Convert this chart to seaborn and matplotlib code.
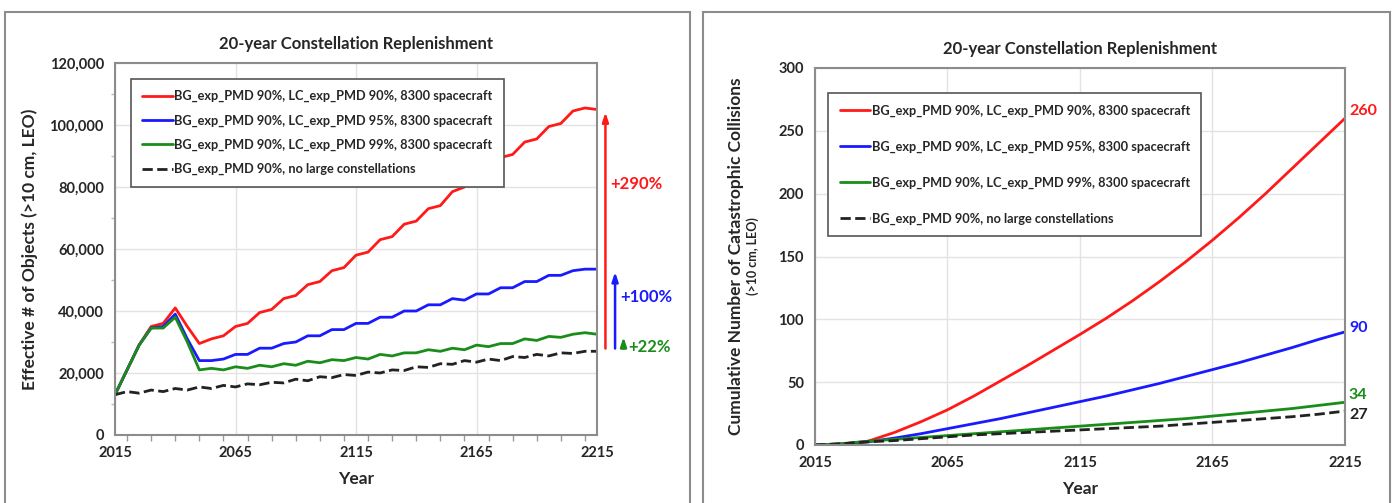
import numpy as np
import pandas as pd
import matplotlib.pyplot as plt
import matplotlib.ticker as mticker
from matplotlib.patches import Rectangle
import seaborn as sns

# ---- data ----
years5 = list(range(2015, 2220, 5))
years10 = list(range(2015, 2220, 10))

labels = ['BG_exp_PMD 90%, LC_exp_PMD 90%, 8300 spacecraft',
          'BG_exp_PMD 90%, LC_exp_PMD 95%, 8300 spacecraft',
          'BG_exp_PMD 90%, LC_exp_PMD 99%, 8300 spacecraft',
          'BG_exp_PMD 90%, no large constellations']

# effective number of objects (thousands)
obj_red = [13, 21, 29, 35, 36, 41, 35, 29.5, 31, 32, 35, 36, 39.5, 40.5, 44, 45, 48.5, 49.5, 53, 54,
           58, 59, 63, 64, 68, 69, 73, 74, 78.5, 80, 84, 85.5, 89.5, 90.5, 94.5, 95.5, 99.5, 100.5,
           104.5, 105.5, 105]
obj_blue = [13, 21, 29, 34.5, 35, 39, 31, 24, 24, 24.5, 26, 26, 28, 28, 29.5, 30, 32, 32, 34, 34,
            36, 36, 38, 38, 40, 40, 42, 42, 44, 43.5, 45.5, 45.5, 47.5, 47.5, 49.5, 49.5, 51.5, 51.5,
            53, 53.5, 53.5]
obj_green = [13, 21, 29, 34.5, 34.5, 38, 30, 21, 21.5, 21, 22, 21.5, 22.5, 22, 23, 22.5, 23.8, 23.3,
             24.3, 24, 25, 24.5, 26, 25.5, 26.5, 26.5, 27.5, 27, 28, 27.5, 29, 28.5, 29.5, 29.5, 31,
             30.5, 31.8, 31.5, 32.5, 33, 32.5]
obj_black = [13, 14, 13.5, 14.5, 14, 15, 14.5, 15.5, 15, 16, 15.5, 16.5, 16.2, 17, 16.8, 18, 17.5,
             18.8, 18.5, 19.5, 19.2, 20.3, 20, 21, 20.8, 22, 21.8, 23, 22.8, 24, 23.5, 24.5, 24,
             25.3, 25, 26, 25.5, 26.5, 26.3, 27, 27]

# cumulative catastrophic collisions
col_red = [0, 0.8, 3, 10, 18.5, 28, 39, 51, 63, 75.5, 88, 101, 115, 130, 146, 163, 181, 200, 220, 240, 260]
col_blue = [0, 0.8, 2.5, 5.5, 9, 13, 17, 21, 25.5, 30, 34.5, 39, 44, 49, 54.5, 60, 65.5, 71.5, 77.5, 84, 90]
col_green = [0, 1, 3, 4.5, 6, 7.5, 9, 10.5, 12, 13.5, 15, 16.5, 18, 19.5, 21, 23, 25, 27, 29, 31.5, 34]
col_black = [0, 1, 2.5, 3.5, 5, 6.5, 8, 9, 10, 11, 12, 13, 14, 15, 16.5, 18, 19.5, 21, 22.5, 24.5, 27]

growth_labels = ['+290%', '+100%', '+22%']
final_labels = ['260', '90', '34', '27']

colors = ['#ff1a1a', '#1a1aff', '#1a8c1a', '#222222']
styles = ['-', '-', '-', '--']

sns.set_theme(style='white')
plt.rcParams['font.family'] = ['Lato', 'DejaVu Sans']
plt.rcParams['font.weight'] = 'bold'

fig = plt.figure(figsize=(13.92, 5.03), dpi=100)

# panel frames
for x0, x1 in [(5, 690), (703, 1390)]:
    fig.patches.append(Rectangle((x0 / 1392, -0.05), (x1 - x0) / 1392, 1 - 12 / 503 + 0.05,
                                 transform=fig.transFigure, fill=False, edgecolor='#8c8c8c', lw=1.5))

ax1 = fig.add_axes([115 / 1392, 1 - 435 / 503, 482 / 1392, 372 / 503])
ax2 = fig.add_axes([815 / 1392, 1 - 445 / 503, 530 / 1392, 377 / 503])

obj_series = [obj_red, obj_blue, obj_green, obj_black]
col_series = [col_red, col_blue, col_green, col_black]

for vals, lab, c, ls in zip(obj_series, labels, colors, styles):
    df = pd.DataFrame({'Year': years5, 'v': np.array(vals) * 1000})
    sns.lineplot(data=df, x='Year', y='v', ax=ax1, color=c, linestyle=ls, lw=2, label=lab)

for vals, lab, c, ls in zip(col_series, labels, colors, styles):
    df = pd.DataFrame({'Year': years10, 'v': vals})
    sns.lineplot(data=df, x='Year', y='v', ax=ax2, color=c, linestyle=ls, lw=2, label=lab)

for ax in (ax1, ax2):
    ax.set_xlim(2015, 2215)
    ax.set_xticks([2015, 2065, 2115, 2165, 2215])
    ax.tick_params(axis='both', which='major', labelsize=10.5, length=0, pad=8)
    ax.grid(True, which='major', color='#e3e3e3', lw=1)
    for sp in ax.spines.values():
        sp.set_color('#8c8c8c')
        sp.set_linewidth(1.5)
    ax.set_xlabel('Year', fontsize=12.5, fontweight='bold', labelpad=8)
    ax.set_title('20-year Constellation Replenishment', fontsize=12, fontweight='bold', pad=10)
    for t in ax.get_xticklabels() + ax.get_yticklabels():
        t.set_fontweight('bold')

ax1.xaxis.set_minor_locator(mticker.MultipleLocator(10))
ax1.tick_params(axis='x', which='minor', bottom=True, length=4, color='#999999')
ax1.set_ylim(0, 120000)
ax1.set_yticks(range(0, 120001, 20000))
ax1.yaxis.set_major_formatter(mticker.StrMethodFormatter('{x:,.0f}'))
ax1.yaxis.set_minor_locator(mticker.MultipleLocator(10000))
ax1.tick_params(axis='y', which='minor', left=True, length=3, color='#bbbbbb')
ax1.set_ylabel('Effective # of Objects (>10 cm, LEO)', fontsize=12.5, fontweight='bold', labelpad=8)
for t in ax1.get_yticklabels():
    t.set_fontweight('bold')

ax2.set_ylim(0, 300)
ax2.set_yticks(range(0, 301, 50))
ax2.set_ylabel('')
ax2.text(-0.15, 0.5, 'Cumulative Number of Catastrophic Collisions', transform=ax2.transAxes,
         rotation=90, ha='center', va='center', fontsize=12.5, fontweight='bold')
ax2.text(-0.117, 0.5, '(>10 cm, LEO)', transform=ax2.transAxes,
         rotation=90, ha='center', va='center', fontsize=9, fontweight='bold')
for t in ax2.get_yticklabels():
    t.set_fontweight('bold')

leg_kw = dict(loc='upper left', frameon=True, fancybox=False, handlelength=2.4,
              handletextpad=0.1, borderpad=0.9, prop={'size': 9.2, 'weight': 'bold'})
l1 = ax1.legend(bbox_to_anchor=(0.019, 0.975), labelspacing=0.95, **leg_kw)
l2 = ax2.legend(bbox_to_anchor=(0.013, 0.95), labelspacing=1.85, **leg_kw)
for lg in (l1, l2):
    lg.get_frame().set_edgecolor('#555555')
    lg.get_frame().set_linewidth(1.2)
    lg.get_frame().set_alpha(1)

# growth arrows, left panel
base = 27000
arrow_x = [2218.5, 2222.5, 2226.0]
text_x = [2220.5, 2224.5, 2228.0]
text_y = [81000, 44500, 28500]
ends = [obj_red[-1] * 1000, obj_blue[-1] * 1000, obj_green[-1] * 1000]
for ax_, tx, ty, end, c, g in zip(arrow_x, text_x, text_y, ends, colors, growth_labels):
    ax1.annotate('', xy=(ax_, end), xytext=(ax_, base), annotation_clip=False,
                 arrowprops=dict(arrowstyle='-|>,head_width=0.15,head_length=0.45', color=c, lw=1.8))
    ax1.text(tx, ty, g, color=c, fontsize=12, fontweight='bold', va='center', ha='left', clip_on=False)

# final values, right panel
final_y = [col_red[-1] + 6, col_blue[-1] + 3, col_green[-1] + 6, col_black[-1] - 3]
for fy, c, t in zip(final_y, colors, final_labels):
    ax2.text(2216.5, fy, t, color=c, fontsize=11.5, fontweight='bold', va='center', ha='left',
             clip_on=False)

plt.savefig('out.png', dpi=100)
